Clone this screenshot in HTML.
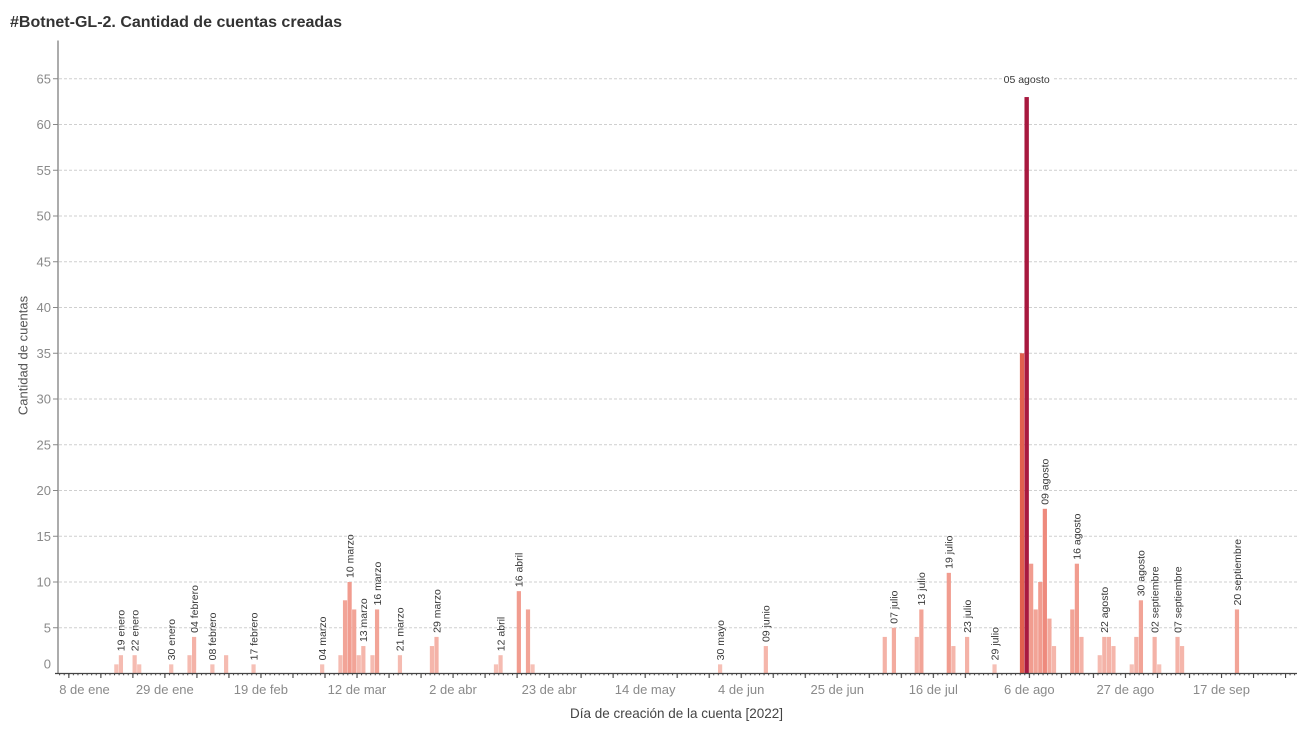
<!DOCTYPE html>
<html><head><meta charset="utf-8"><style>
html,body{margin:0;padding:0;background:#fff;}
svg{display:block;font-family:"Liberation Sans",sans-serif;}
</style></head><body>
<svg width="1300" height="731" viewBox="0 0 1300 731" xmlns="http://www.w3.org/2000/svg">
<defs>
<pattern id="minor" patternUnits="userSpaceOnUse" x="68.3" y="0" width="4.574" height="731"><rect x="0" y="673" width="1" height="2.3" fill="#444"/></pattern>
<pattern id="major" patternUnits="userSpaceOnUse" x="68.3" y="0" width="32.018" height="731"><rect x="0" y="673" width="1.1" height="5" fill="#444"/></pattern>
</defs>
<rect width="1300" height="731" fill="#fff"/>
<text x="10" y="27" font-size="15.5" font-weight="bold" fill="#333" textLength="332" lengthAdjust="spacingAndGlyphs">#Botnet-GL-2. Cantidad de cuentas creadas</text>

<g stroke="#cfcfcf" stroke-width="1" stroke-dasharray="3,2">
<line x1="59" x2="1297" y1="627.75" y2="627.75"/>
<line x1="59" x2="1297" y1="582" y2="582"/>
<line x1="59" x2="1297" y1="536.25" y2="536.25"/>
<line x1="59" x2="1297" y1="490.5" y2="490.5"/>
<line x1="59" x2="1297" y1="444.75" y2="444.75"/>
<line x1="59" x2="1297" y1="399" y2="399"/>
<line x1="59" x2="1297" y1="353.25" y2="353.25"/>
<line x1="59" x2="1297" y1="307.5" y2="307.5"/>
<line x1="59" x2="1297" y1="261.75" y2="261.75"/>
<line x1="59" x2="1297" y1="216" y2="216"/>
<line x1="59" x2="1297" y1="170.25" y2="170.25"/>
<line x1="59" x2="1297" y1="124.5" y2="124.5"/>
<line x1="59" x2="1297" y1="78.75" y2="78.75"/>
</g>
<g stroke="#888" stroke-width="1">
<line x1="53" x2="58" y1="627.75" y2="627.75"/>
<line x1="53" x2="58" y1="582" y2="582"/>
<line x1="53" x2="58" y1="536.25" y2="536.25"/>
<line x1="53" x2="58" y1="490.5" y2="490.5"/>
<line x1="53" x2="58" y1="444.75" y2="444.75"/>
<line x1="53" x2="58" y1="399" y2="399"/>
<line x1="53" x2="58" y1="353.25" y2="353.25"/>
<line x1="53" x2="58" y1="307.5" y2="307.5"/>
<line x1="53" x2="58" y1="261.75" y2="261.75"/>
<line x1="53" x2="58" y1="216" y2="216"/>
<line x1="53" x2="58" y1="170.25" y2="170.25"/>
<line x1="53" x2="58" y1="124.5" y2="124.5"/>
<line x1="53" x2="58" y1="78.75" y2="78.75"/>
</g>
<g font-size="13" fill="#8a8a8a" text-anchor="end">
<text x="51" y="668.5">0</text>
<text x="51" y="632.3">5</text>
<text x="51" y="586.5">10</text>
<text x="51" y="540.8">15</text>
<text x="51" y="495">20</text>
<text x="51" y="449.3">25</text>
<text x="51" y="403.5">30</text>
<text x="51" y="357.8">35</text>
<text x="51" y="312">40</text>
<text x="51" y="266.3">45</text>
<text x="51" y="220.5">50</text>
<text x="51" y="174.8">55</text>
<text x="51" y="129">60</text>
<text x="51" y="83.3">65</text>
</g>
<text transform="translate(27.5,355.5) rotate(-90)" font-size="13" fill="#555" text-anchor="middle">Cantidad de cuentas</text>

<!-- bars -->
<g fill="#f6c0b6">
<rect x="114.24" y="664.35" width="4.2" height="9.15"/>
<rect x="137.11" y="664.35" width="4.2" height="9.15"/>
<rect x="169.13" y="664.35" width="4.2" height="9.15"/>
<rect x="210.29" y="664.35" width="4.2" height="9.15"/>
<rect x="251.46" y="664.35" width="4.2" height="9.15"/>
<rect x="320.07" y="664.35" width="4.2" height="9.15"/>
<rect x="493.88" y="664.35" width="4.2" height="9.15"/>
<rect x="530.47" y="664.35" width="4.2" height="9.15"/>
<rect x="718.01" y="664.35" width="4.2" height="9.15"/>
<rect x="992.45" y="664.35" width="4.2" height="9.15"/>
<rect x="1129.67" y="664.35" width="4.2" height="9.15"/>
<rect x="1157.11" y="664.35" width="4.2" height="9.15"/>
</g>
<g fill="#f5bbb1">
<rect x="118.81" y="655.2" width="4.2" height="18.3"/>
<rect x="132.54" y="655.2" width="4.2" height="18.3"/>
<rect x="187.42" y="655.2" width="4.2" height="18.3"/>
<rect x="224.02" y="655.2" width="4.2" height="18.3"/>
<rect x="338.37" y="655.2" width="4.2" height="18.3"/>
<rect x="356.66" y="655.2" width="4.2" height="18.3"/>
<rect x="370.38" y="655.2" width="4.2" height="18.3"/>
<rect x="397.83" y="655.2" width="4.2" height="18.3"/>
<rect x="498.46" y="655.2" width="4.2" height="18.3"/>
<rect x="1097.65" y="655.2" width="4.2" height="18.3"/>
</g>
<g fill="#f5b6ab">
<rect x="361.24" y="646.05" width="4.2" height="27.45"/>
<rect x="429.85" y="646.05" width="4.2" height="27.45"/>
<rect x="763.75" y="646.05" width="4.2" height="27.45"/>
<rect x="951.28" y="646.05" width="4.2" height="27.45"/>
<rect x="1051.91" y="646.05" width="4.2" height="27.45"/>
<rect x="1111.37" y="646.05" width="4.2" height="27.45"/>
<rect x="1179.98" y="646.05" width="4.2" height="27.45"/>
</g>
<g fill="#f4b2a7">
<rect x="192.0" y="636.9" width="4.2" height="36.6"/>
<rect x="434.42" y="636.9" width="4.2" height="36.6"/>
<rect x="882.67" y="636.9" width="4.2" height="36.6"/>
<rect x="914.69" y="636.9" width="4.2" height="36.6"/>
<rect x="965.00" y="636.9" width="4.2" height="36.6"/>
<rect x="1079.35" y="636.9" width="4.2" height="36.6"/>
<rect x="1102.22" y="636.9" width="4.2" height="36.6"/>
<rect x="1106.80" y="636.9" width="4.2" height="36.6"/>
<rect x="1134.24" y="636.9" width="4.2" height="36.6"/>
<rect x="1152.54" y="636.9" width="4.2" height="36.6"/>
<rect x="1175.41" y="636.9" width="4.2" height="36.6"/>
</g>
<g fill="#f3ab9f">
<rect x="891.82" y="627.75" width="4.2" height="45.75"/>
<rect x="1047.34" y="618.6" width="4.2" height="54.9"/>
</g>
<g fill="#f2a497">
<rect x="352.09" y="609.45" width="4.2" height="64.05"/>
<rect x="374.96" y="609.45" width="4.2" height="64.05"/>
<rect x="525.90" y="609.45" width="4.2" height="64.05"/>
<rect x="919.26" y="609.45" width="4.2" height="64.05"/>
<rect x="1033.61" y="609.45" width="4.2" height="64.05"/>
<rect x="1070.21" y="609.45" width="4.2" height="64.05"/>
<rect x="1234.87" y="609.45" width="4.2" height="64.05"/>
<rect x="342.94" y="600.3" width="4.2" height="73.2"/>
<rect x="1138.82" y="600.3" width="4.2" height="73.2"/>
</g>
<g fill="#f19c8f">
<rect x="516.75" y="591.15" width="4.2" height="82.35"/>
<rect x="347.51" y="582" width="4.2" height="91.5"/>
<rect x="1038.19" y="582" width="4.2" height="91.5"/>
<rect x="946.71" y="572.85" width="4.2" height="100.65"/>
<rect x="1029.04" y="563.7" width="4.2" height="109.8"/>
<rect x="1074.78" y="563.7" width="4.2" height="109.8"/>
</g>
<rect x="1042.76" y="508.8" width="4.2" height="164.7" fill="#ee8a7d"/>
<rect x="1019.89" y="353.25" width="4.3" height="320.25" fill="#e1604e"/>
<rect x="1024.47" y="97.05" width="4.4" height="576.45" fill="#a8193f"/>

<!-- bar labels -->
<g font-size="10.5" fill="#383838">
<text transform="translate(124.7,651.2) rotate(-90)">19 enero</text>
<text transform="translate(138.4,651.2) rotate(-90)">22 enero</text>
<text transform="translate(175.0,660.35) rotate(-90)">30 enero</text>
<text transform="translate(197.9,632.9) rotate(-90)">04 febrero</text>
<text transform="translate(216.2,660.35) rotate(-90)">08 febrero</text>
<text transform="translate(257.4,660.35) rotate(-90)">17 febrero</text>
<text transform="translate(326.0,660.35) rotate(-90)">04 marzo</text>
<text transform="translate(353.4,578) rotate(-90)">10 marzo</text>
<text transform="translate(367.1,642.05) rotate(-90)">13 marzo</text>
<text transform="translate(380.9,605.45) rotate(-90)">16 marzo</text>
<text transform="translate(403.7,651.2) rotate(-90)">21 marzo</text>
<text transform="translate(440.3,632.9) rotate(-90)">29 marzo</text>
<text transform="translate(504.4,651.2) rotate(-90)">12 abril</text>
<text transform="translate(522.7,587.15) rotate(-90)">16 abril</text>
<text transform="translate(723.9,660.35) rotate(-90)">30 mayo</text>
<text transform="translate(769.7,642.05) rotate(-90)">09 junio</text>
<text transform="translate(897.7,623.75) rotate(-90)">07 julio</text>
<text transform="translate(925.2,605.45) rotate(-90)">13 julio</text>
<text transform="translate(952.6,568.85) rotate(-90)">19 julio</text>
<text transform="translate(970.9,632.9) rotate(-90)">23 julio</text>
<text transform="translate(998.4,660.35) rotate(-90)">29 julio</text>
<text transform="translate(1048.7,504.8) rotate(-90)">09 agosto</text>
<text transform="translate(1080.7,559.7) rotate(-90)">16 agosto</text>
<text transform="translate(1108.1,632.9) rotate(-90)">22 agosto</text>
<text transform="translate(1144.7,596.3) rotate(-90)">30 agosto</text>
<text transform="translate(1158.4,632.9) rotate(-90)">02 septiembre</text>
<text transform="translate(1181.3,632.9) rotate(-90)">07 septiembre</text>
<text transform="translate(1240.8,605.45) rotate(-90)">20 septiembre</text>
</g>
<rect x="1002" y="73" width="50" height="12" fill="#fff"/>
<text x="1026.7" y="83" font-size="10.5" fill="#383838" text-anchor="middle">05 agosto</text>

<!-- axes -->
<line x1="58" y1="40.5" x2="58" y2="674" stroke="#808080" stroke-width="1.3"/>
<line x1="55" y1="673.5" x2="1297" y2="673.5" stroke="#444" stroke-width="1.2"/>
<rect x="56" y="672" width="1241" height="8" fill="url(#minor)"/>
<rect x="56" y="672" width="1241" height="8" fill="url(#major)"/>

<g font-size="13" fill="#8a8a8a" text-anchor="middle">
<text x="84.5" y="694">8 de ene</text>
<text x="164.85" y="694">29 de ene</text>
<text x="260.9" y="694">19 de feb</text>
<text x="356.96" y="694">12 de mar</text>
<text x="453.0" y="694">2 de abr</text>
<text x="549.07" y="694">23 de abr</text>
<text x="645.12" y="694">14 de may</text>
<text x="741.18" y="694">4 de jun</text>
<text x="837.23" y="694">25 de jun</text>
<text x="933.29" y="694">16 de jul</text>
<text x="1029.34" y="694">6 de ago</text>
<text x="1125.39" y="694">27 de ago</text>
<text x="1221.45" y="694">17 de sep</text>
</g>
<text x="676.5" y="718" font-size="14" fill="#444" text-anchor="middle" textLength="213" lengthAdjust="spacingAndGlyphs">Día de creación de la cuenta [2022]</text>
</svg>
</body></html>
